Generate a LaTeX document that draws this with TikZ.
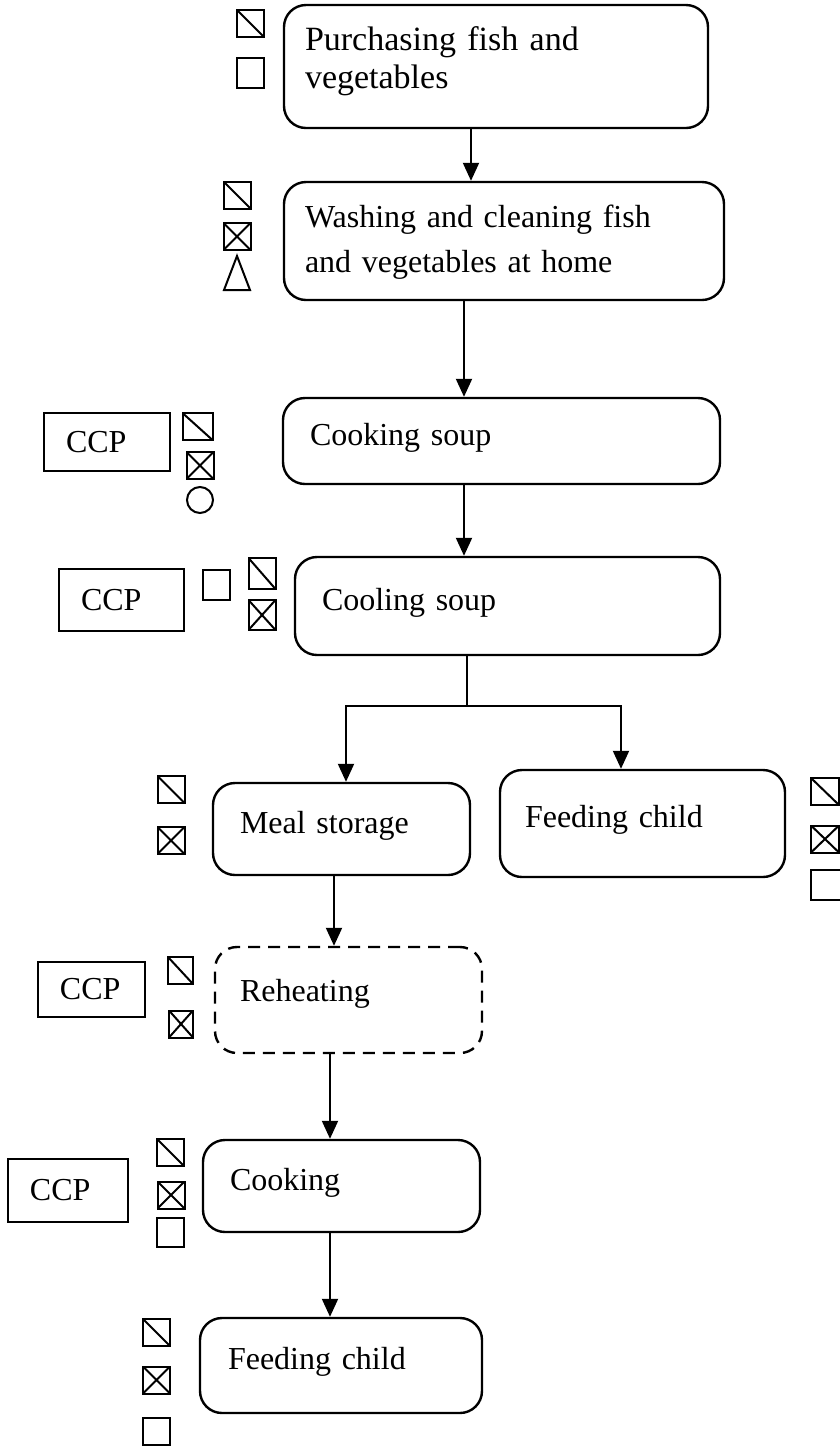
\documentclass[tikz,border=0pt]{standalone}
\usepackage{fontspec}
\setmainfont{Liberation Serif}
\usetikzlibrary{arrows.meta}

\begin{document}
\begin{tikzpicture}[x=0.5pt,y=-0.5pt,line width=1pt,
    font=\fontsize{16}{20}\selectfont,
    stepbox/.style={draw,rounded corners=11pt,line width=1.2pt,align=left,
      inner ysep=0pt,inner xsep=13.5pt,text depth=7pt},
    ccpbox/.style={draw,line width=0.8pt,align=left,inner xsep=11pt,
      inner ysep=0pt,text width=#1},
    sym/.style={draw,inner sep=0pt,minimum width=13.5pt,minimum height=13.5pt},
    diagbox/.style={sym,path picture={\draw (path picture bounding box.north west)
      -- (path picture bounding box.south east);}},
    crossbox/.style={sym,path picture={\draw (path picture bounding box.north west)
      -- (path picture bounding box.south east) (path picture bounding box.south west)
      -- (path picture bounding box.north east);}},
    ring/.style={draw,circle,inner sep=0pt,minimum size=13pt},
    flow/.style={-{Triangle[length=9pt,width=8pt]}}]
  \useasboundingbox (0,0) rectangle (840,1447);

  \node[stepbox,font=\fontsize{17}{19}\selectfont,inner xsep=10.5pt,text width=191pt,
    minimum height=61.5pt,text depth=28pt] (b1) at (496,66.5)
    {Purchasing fish and\\vegetables};
  \node[stepbox,font=\fontsize{16}{22.5}\selectfont,inner xsep=10.5pt,text width=199pt,
    minimum height=59pt,text depth=25pt] (b2) at (504,241)
    {Washing and cleaning fish\\and vegetables at home};
  \node[stepbox,text width=191.5pt,minimum height=43pt] (b3) at (501.5,441) {Cooking soup};
  \node[stepbox,text width=185.5pt,minimum height=49pt] (b4) at (507.5,606) {Cooling soup};
  \node[stepbox,text width=101.5pt,minimum height=46pt] (b5) at (341.5,829) {Meal storage};
  \node[stepbox,inner xsep=12.5pt,text width=117.5pt,minimum height=53.5pt] (b6) at (642.5,823.5) {Feeding child};
  \node[stepbox,dash pattern=on 6pt off 4pt,inner xsep=12.5pt,text width=108.5pt,
    minimum height=53pt,text depth=10pt] (b7) at (348.5,1000) {Reheating};
  \node[stepbox,text width=111.5pt,minimum height=46pt] (b8) at (341.5,1186) {Cooking};
  \node[stepbox,inner xsep=14pt,text width=113pt,minimum height=47.5pt] (b9) at (341,1365.5) {Feeding child};

  \node[ccpbox=41pt,minimum height=29pt] (c3) at (107,442) {CCP};
  \node[ccpbox=40.5pt,minimum height=31pt] (c4) at (121.5,600) {CCP};
  \node[ccpbox=31.5pt,minimum height=27.5pt] (c7) at (91.5,989.5) {CCP};
  \node[ccpbox=38pt,minimum height=31.5pt] (c8) at (68,1190.5) {CCP};

  \node[diagbox] (s1a) at (250.5,23.5) {};
  \node[sym,minimum height=15pt] (s1b) at (250.5,73) {};
  \node[diagbox] (s2a) at (237,195) {};
  \node[crossbox] (s2b) at (237,236.5) {};
  \draw (224,290) -- (237,256) -- (250,290) -- cycle;
  \node[diagbox,minimum width=15pt] (s3a) at (197.5,426.5) {};
  \node[crossbox] (s3b) at (200,465.5) {};
  \node[ring] (s3c) at (200,500) {};
  \node[sym,minimum height=15pt] (s4a) at (216,584.5) {};
  \node[diagbox,minimum height=15.5pt] (s4b) at (262,573.5) {};
  \node[crossbox,minimum height=15pt] (s4c) at (262,615) {};
  \node[diagbox] (s5a) at (171,789.5) {};
  \node[crossbox] (s5b) at (171,840.5) {};
  \node[diagbox,minimum width=14pt] (s6a) at (825,791.5) {};
  \node[crossbox,minimum width=14pt] (s6b) at (825,839) {};
  \node[sym,minimum width=17pt,minimum height=15pt] (s6c) at (828,885) {};
  \node[diagbox,minimum width=12.5pt] (s7a) at (180.5,970.5) {};
  \node[crossbox,minimum width=12pt] (s7b) at (181,1024) {};
  \node[diagbox] (s8a) at (170.5,1152.5) {};
  \node[crossbox] (s8b) at (171,1195) {};
  \node[sym,minimum height=14.5pt] (s8c) at (170.5,1232.5) {};
  \node[diagbox] (s9a) at (156.5,1332.5) {};
  \node[crossbox] (s9b) at (156.5,1380) {};
  \node[sym] (s9c) at (156.5,1431) {};

  \coordinate (a1) at (471,0);
  \coordinate (a2) at (464,0);
  \coordinate (fork) at (467,706);
  \coordinate (l5) at (346,0);
  \coordinate (r6) at (621,0);
  \coordinate (a5) at (334,0);
  \coordinate (a7) at (330,0);
  \draw[flow] (b1.south -| a1) -- (b2.north -| a1);
  \draw[flow] (b2.south -| a2) -- (b3.north -| a2);
  \draw[flow] (b3.south -| a2) -- (b4.north -| a2);
  \draw (b4.south -| fork) -- (fork);
  \draw[flow] (fork) -| (b5.north -| l5);
  \draw[flow] (fork) -| (b6.north -| r6);
  \draw[flow] (b5.south -| a5) -- (b7.north -| a5);
  \draw[flow] (b7.south -| a7) -- (b8.north -| a7);
  \draw[flow] (b8.south -| a7) -- (b9.north -| a7);
\end{tikzpicture}
\end{document}
